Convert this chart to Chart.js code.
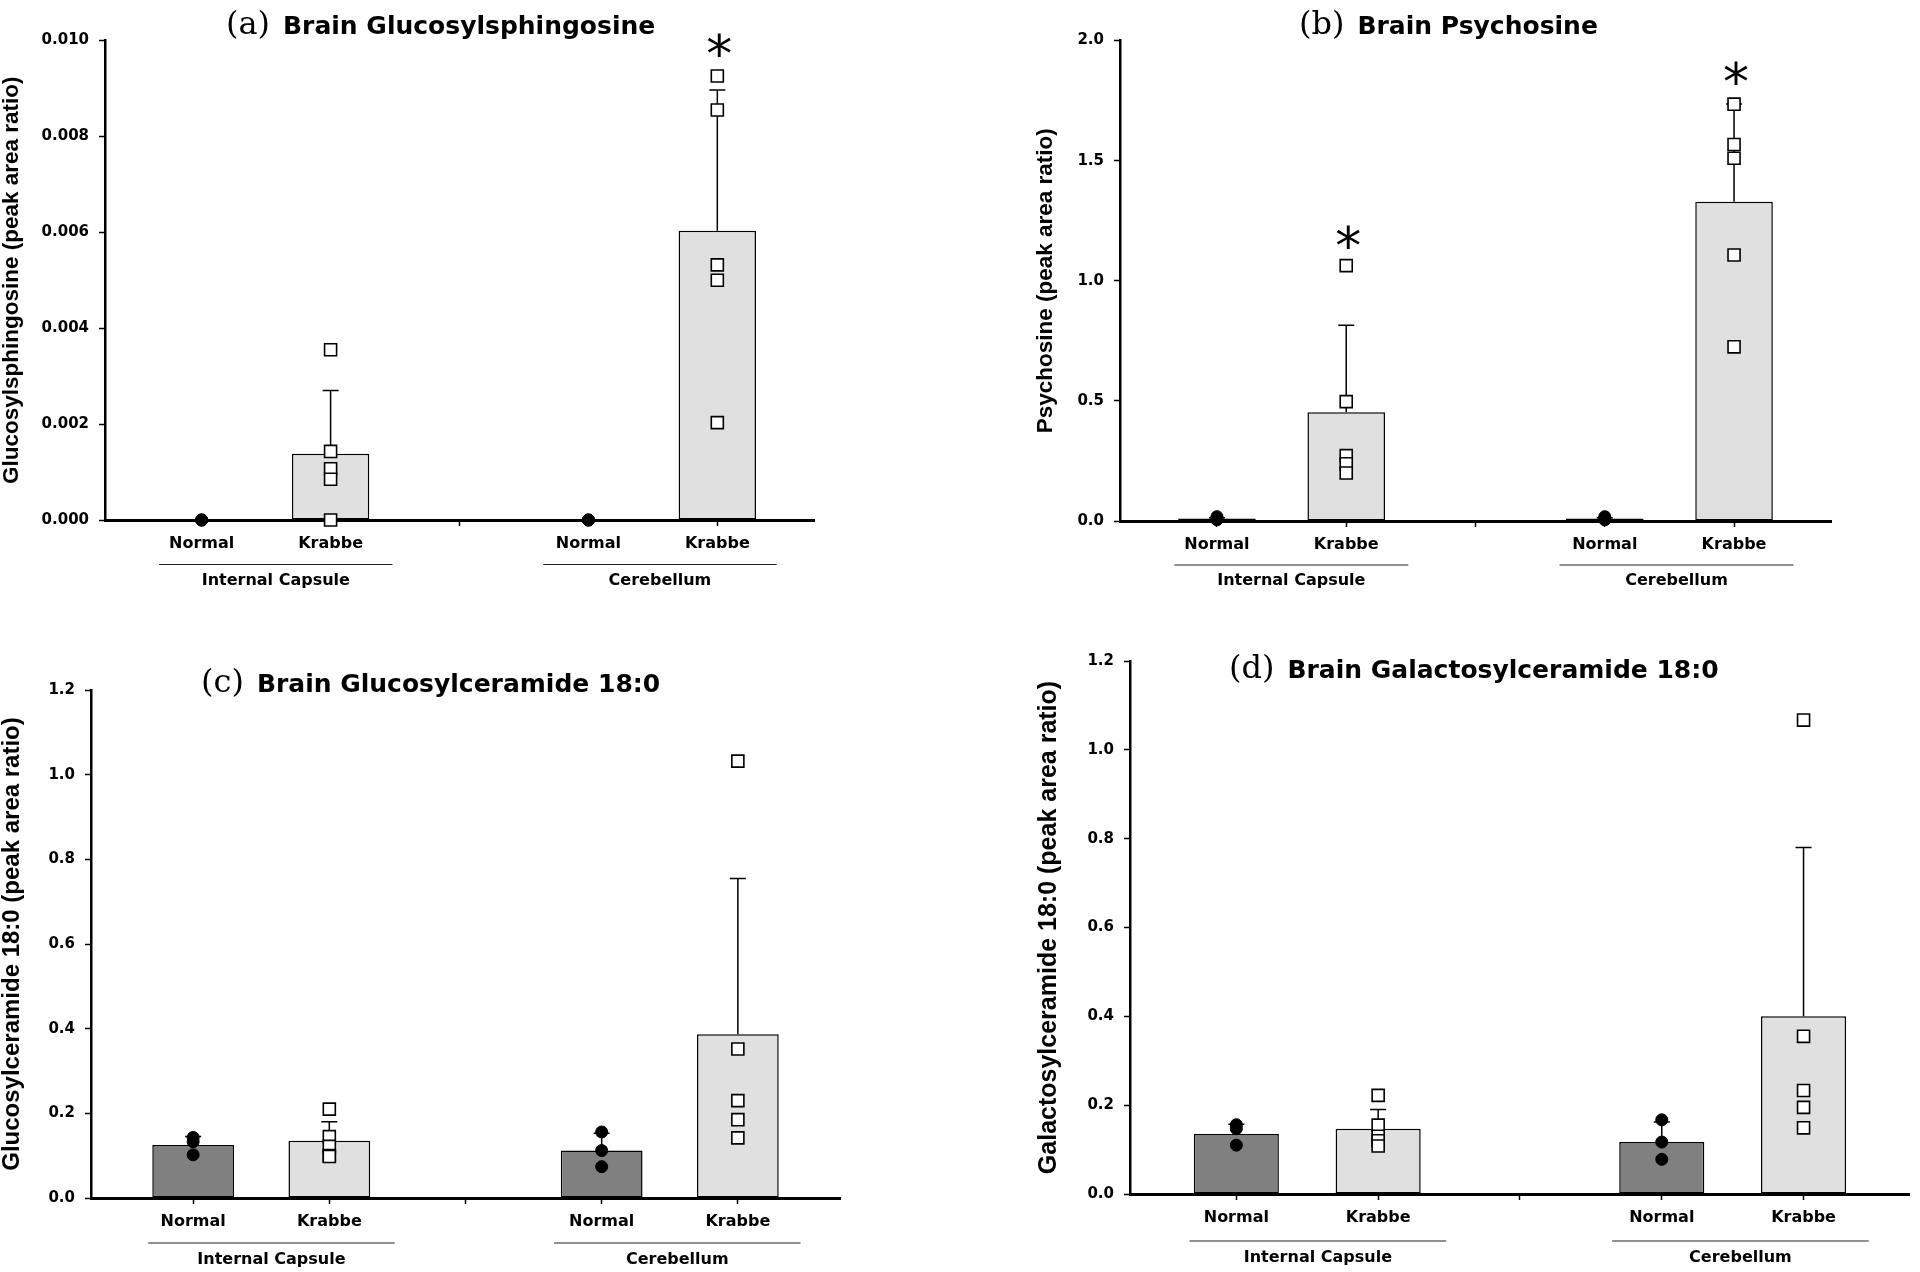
<!DOCTYPE html>
<html>
<head>
<meta charset="utf-8">
<script src="https://cdn.jsdelivr.net/npm/chart.js@4.4.1/dist/chart.umd.min.js"></script>
<style>
  html, body { margin: 0; padding: 0; background: #fff; }
  body { width: 1920px; height: 1272px; position: relative; overflow: hidden; }
  .panel { position: absolute; width: 960px; height: 636px; }
</style>
</head>
<body>
<div class="panel" style="left:0;top:0"><canvas id="chA"></canvas></div>
<div class="panel" style="left:960px;top:0"><canvas id="chB"></canvas></div>
<div class="panel" style="left:0;top:636px"><canvas id="chC"></canvas></div>
<div class="panel" style="left:960px;top:636px"><canvas id="chD"></canvas></div>
<script>
/* =========================================================
   Brain lipids — Normal vs Krabbe, internal capsule / cerebellum
   ========================================================= */

// bar positions on the x axis: Normal IC, Krabbe IC, Normal Cer, Krabbe Cer
const POS = [1, 2, 4, 5];
const TICK_POS = [1, 2, 3, 4, 5];
const TICK_LABELS = ['Normal', 'Krabbe', '', 'Normal', 'Krabbe'];
const GROUPS = ['Internal Capsule', 'Cerebellum'];
const GROUP_SPAN = [[0.67, 2.48], [3.65, 5.46]];

/* (a) Glucosylsphingosine */
const gsMean = [0, 0.00138, 0, 0.00603];
const gsSd = [0, 0.00132, 0, 0.00294];
const gsNormal = [[0, 0, 0], [0, 0, 0]];
const gsKrabbe = [[0.00355, 0.00143, 0.00107, 0.00085, 0], [0.00926, 0.00855, 0.00532, 0.00500, 0.00203]];
const gsStars = [null, null, null, 0.00995];
const gsTicks = [0, 0.002, 0.004, 0.006, 0.008, 0.010];
const gsTickLabels = ['0.000', '0.002', '0.004', '0.006', '0.008', '0.010'];

/* (b) Psychosine */
const psyMean = [0.010, 0.453, 0.010, 1.329];
const psySd = [0.004, 0.362, 0.004, 0.407];
const psyNormal = [[0.018, 0.010, 0.005], [0.018, 0.010, 0.005]];
const psyKrabbe = [[1.063, 0.497, 0.272, 0.238, 0.200], [1.735, 1.567, 1.510, 1.107, 0.725]];
const psyStars = [null, 1.19, null, 1.874];
const psyTicks = [0, 0.5, 1.0, 1.5, 2.0];
const psyTickLabels = ['0.0', '0.5', '1.0', '1.5', '2.0'];

/* (c) Glucosylceramide 18:0 */
const gcMean = [0.125, 0.135, 0.112, 0.387];
const gcSd = [0.020, 0.045, 0.041, 0.368];
const gcNormal = [[0.143, 0.133, 0.102], [0.156, 0.112, 0.074]];
const gcKrabbe = [[0.210, 0.145, 0.122, 0.100, 0.098], [1.032, 0.352, 0.230, 0.185, 0.142]];
const gcStars = [null, null, null, null];

/* (d) Galactosylceramide 18:0 */
const galMean = [0.135, 0.147, 0.117, 0.400];
const galSd = [0.022, 0.043, 0.045, 0.380];
const galNormal = [[0.156, 0.147, 0.110], [0.167, 0.117, 0.078]];
const galKrabbe = [[0.222, 0.155, 0.130, 0.120, 0.108], [1.067, 0.355, 0.233, 0.195, 0.149]];
const galStars = [null, null, null, null];

const cerTicks = [0, 0.2, 0.4, 0.6, 0.8, 1.0, 1.2];
const cerTickLabels = ['0.0', '0.2', '0.4', '0.6', '0.8', '1.0', '1.2'];

const BAR_COLORS = ['#808080', '#e0e0e0', '#808080', '#e0e0e0'];
const SANS = '"DejaVu Sans", sans-serif';
const W = 960, H = 636;

function makePanel(id, cfg) {
  const area = cfg.area;
  const normalPts = [];
  cfg.normal.forEach((arr, g) => arr.forEach((v) => normalPts.push({ x: POS[g * 2], y: v })));
  const krabbePts = [];
  cfg.krabbe.forEach((arr, g) => arr.forEach((v) => krabbePts.push({ x: POS[g * 2 + 1], y: v })));

  const decor = {
    id: 'decor' + id,
    afterDatasetDraw(chart, args) {
      if (args.index !== 0) return;
      const { ctx, scales: { x, y } } = chart;
      ctx.save();
      ctx.strokeStyle = '#000';
      ctx.lineWidth = 1.5;
      cfg.mean.forEach((m, i) => {
        if (!cfg.sd[i]) return;
        const px = x.getPixelForValue(POS[i]);
        const y0 = y.getPixelForValue(m);
        const y1 = y.getPixelForValue(m + cfg.sd[i]);
        ctx.beginPath();
        ctx.moveTo(px, y0); ctx.lineTo(px, y1);
        ctx.moveTo(px - 8, y1); ctx.lineTo(px + 8, y1);
        ctx.stroke();
      });
      ctx.restore();
    },
    afterDraw(chart) {
      const { ctx, scales: { x, y } } = chart;
      ctx.save();
      ctx.fillStyle = '#000';
      // title: serif tag + bold sans text
      ctx.textBaseline = 'middle';
      ctx.textAlign = 'left';
      ctx.font = '32px "DejaVu Serif", serif';
      ctx.fillText(cfg.tag, cfg.titleX, cfg.titleY);
      const tw = ctx.measureText(cfg.tag).width;
      ctx.font = 'bold 25px ' + SANS;
      ctx.fillText(cfg.title, cfg.titleX + tw + 13, cfg.titleY + 1);

      // y axis title
      ctx.save();
      ctx.translate(cfg.yTitleX, (area.top + area.bottom) / 2);
      ctx.rotate(-Math.PI / 2);
      ctx.textAlign = 'center';
      ctx.font = `bold ${cfg.yTitleSize}px "Liberation Sans", Arial, sans-serif`;
      ctx.fillText(cfg.yTitle, 0, 0);
      ctx.restore();

      // group lines + labels
      ctx.strokeStyle = '#222';
      ctx.lineWidth = 1.2;
      ctx.textAlign = 'center';
      ctx.font = 'bold 16px ' + SANS;
      GROUP_SPAN.forEach((sp, g) => {
        const x0 = x.getPixelForValue(sp[0]);
        const x1 = x.getPixelForValue(sp[1]);
        ctx.beginPath();
        ctx.moveTo(x0, cfg.groupLineY); ctx.lineTo(x1, cfg.groupLineY);
        ctx.stroke();
        ctx.fillText(GROUPS[g], (x0 + x1) / 2, cfg.groupTextY);
      });

      // significance stars
      const starSize = 52;
      ctx.font = `${starSize}px "DejaVu Sans", sans-serif`;
      ctx.textBaseline = 'alphabetic';
      cfg.stars.forEach((s, i) => {
        if (s == null) return;
        ctx.fillText('*', x.getPixelForValue(POS[i]) + 2, y.getPixelForValue(s) + starSize * 0.56);
      });
      ctx.restore();
    },
  };

  return new Chart(document.getElementById(id), {
    type: 'bar',
    data: {
      datasets: [
        {
          type: 'bar',
          order: 2,
          data: cfg.mean.map((m, i) => ({ x: POS[i], y: m })),
          backgroundColor: BAR_COLORS,
          borderColor: '#000',
          borderWidth: 1.5,
          borderSkipped: false,
          categoryPercentage: 1,
          barPercentage: 0.6,
        },
        {
          type: 'scatter',
          order: 1,
          data: normalPts,
          pointStyle: 'circle',
          pointRadius: 6,
          pointBackgroundColor: '#000',
          pointBorderColor: '#000',
          pointBorderWidth: 1,
          clip: false,
        },
        {
          type: 'scatter',
          order: 1,
          data: krabbePts,
          pointStyle: 'rect',
          pointRadius: 8.5,
          pointBackgroundColor: '#fff',
          pointBorderColor: '#000',
          pointBorderWidth: 1.6,
          clip: false,
        },
      ],
    },
    options: {
      responsive: true,
      maintainAspectRatio: false,
      animation: false,
      layout: { padding: { left: 0, top: area.top, right: W - area.right, bottom: 0 } },
      plugins: { legend: { display: false }, tooltip: { enabled: false }, title: { display: false } },
      scales: {
        x: {
          type: 'linear',
          min: 0.25,
          max: 5.75,
          offset: false,
          afterBuildTicks: (s) => { s.ticks = TICK_POS.map((v) => ({ value: v })); },
          afterFit: (s) => { s.height = H - area.bottom; },
          grid: { offset: false, drawOnChartArea: false, drawTicks: true, tickLength: 6, tickWidth: 1.5, tickColor: '#000' },
          border: { display: true, color: '#000', width: 3 },
          ticks: {
            autoSkip: false,
            maxRotation: 0,
            padding: 8,
            color: '#000',
            font: { family: SANS, weight: 'bold', size: 16 },
            callback: (v) => TICK_LABELS[TICK_POS.indexOf(v)],
          },
        },
        y: {
          min: 0,
          max: cfg.ticks[cfg.ticks.length - 1],
          afterBuildTicks: (s) => { s.ticks = cfg.ticks.map((v) => ({ value: v })); },
          afterFit: (s) => { s.width = area.left; },
          grid: { offset: false, drawOnChartArea: false, drawTicks: true, tickLength: 6, tickWidth: 1.5, tickColor: '#000' },
          border: { display: true, color: '#000', width: 2.5 },
          ticks: {
            padding: 10,
            color: '#000',
            font: { family: SANS, weight: 'bold', size: 15 },
            callback: (v) => cfg.tickLabels[cfg.ticks.indexOf(v)],
          },
        },
      },
    },
    plugins: [decor],
  });
}

makePanel('chA', {
  mean: gsMean, sd: gsSd, normal: gsNormal, krabbe: gsKrabbe, stars: gsStars,
  ticks: gsTicks, tickLabels: gsTickLabels,
  area: { left: 105, top: 40.5, right: 814, bottom: 520 },
  tag: '(a)', title: 'Brain Glucosylsphingosine', titleX: 226, titleY: 26,
  yTitle: 'Glucosylsphingosine (peak area ratio)', yTitleX: 12, yTitleSize: 22.5,
  groupLineY: 564.5, groupTextY: 581,
});

makePanel('chB', {
  mean: psyMean, sd: psySd, normal: psyNormal, krabbe: psyKrabbe, stars: psyStars,
  ticks: psyTicks, tickLabels: psyTickLabels,
  area: { left: 160, top: 40.5, right: 871, bottom: 521 },
  tag: '(b)', title: 'Brain Psychosine', titleX: 339, titleY: 26,
  yTitle: 'Psychosine (peak area ratio)', yTitleX: 86, yTitleSize: 22.5,
  groupLineY: 565, groupTextY: 581,
});

makePanel('chC', {
  mean: gcMean, sd: gcSd, normal: gcNormal, krabbe: gcKrabbe, stars: gcStars,
  ticks: cerTicks, tickLabels: cerTickLabels,
  area: { left: 91, top: 54, right: 840, bottom: 562 },
  tag: '(c)', title: 'Brain Glucosylceramide 18:0', titleX: 201, titleY: 48,
  yTitle: 'Glucosylceramide 18:0 (peak area ratio)', yTitleX: 12, yTitleSize: 24,
  groupLineY: 607, groupTextY: 624,
});

makePanel('chD', {
  mean: galMean, sd: galSd, normal: galNormal, krabbe: galKrabbe, stars: galStars,
  ticks: cerTicks, tickLabels: cerTickLabels,
  area: { left: 170, top: 25, right: 960, bottom: 558 },
  tag: '(d)', title: 'Brain Galactosylceramide 18:0', titleX: 269, titleY: 34,
  yTitle: 'Galactosylceramide 18:0 (peak area ratio)', yTitleX: 89, yTitleSize: 25,
  groupLineY: 605, groupTextY: 622,
});
</script>
</body>
</html>
